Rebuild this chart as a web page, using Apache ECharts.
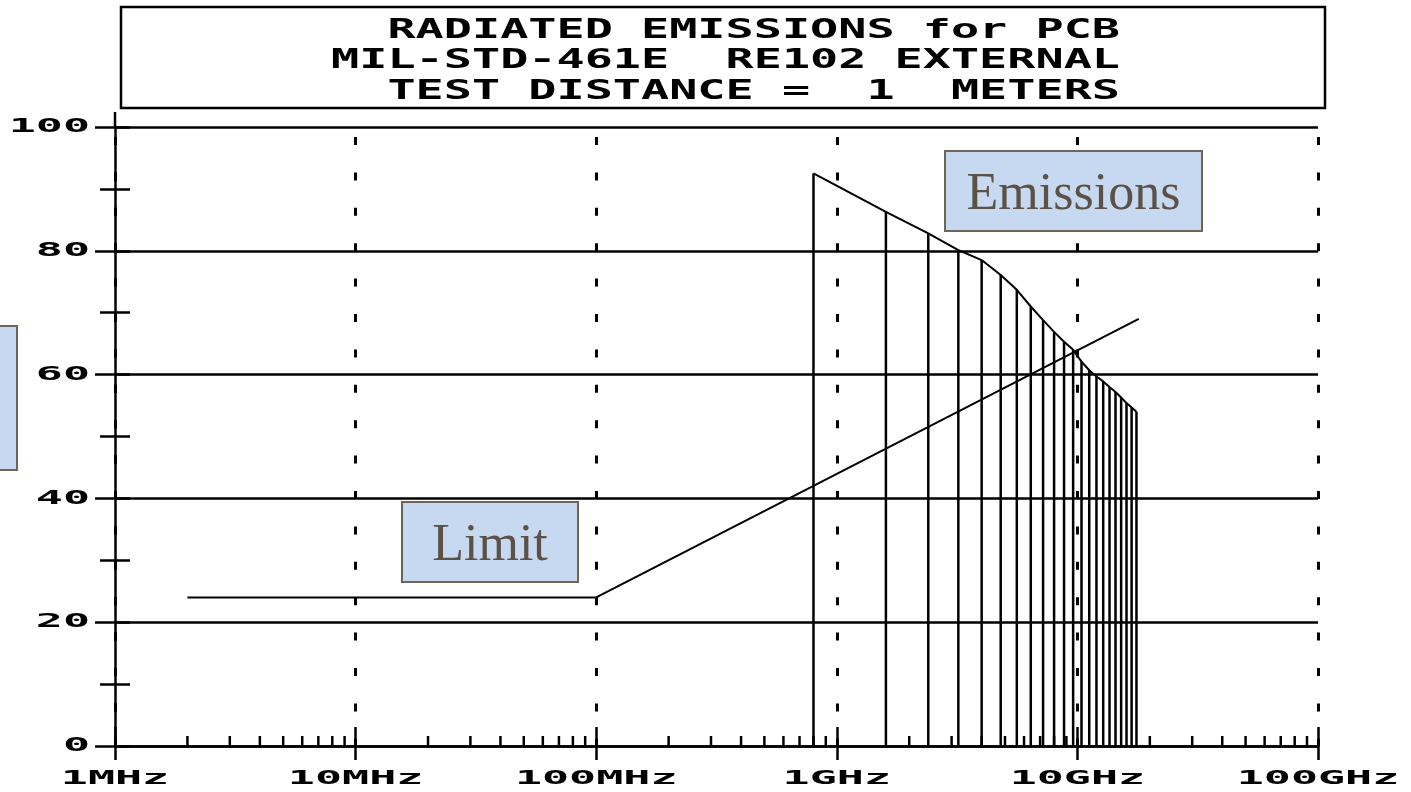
<!DOCTYPE html>
<html><head><meta charset="utf-8">
<script src="https://cdn.jsdelivr.net/npm/echarts@6/dist/echarts.min.js"></script>
<style>html,body{margin:0;padding:0;background:#fff}#c{width:1411px;height:792px}</style>
</head><body><div id="c"></div>
<script>
// ---- data ----
const titleLines = ['RADIATED EMISSIONS for PCB', 'MIL-STD-461E  RE102 EXTERNAL', 'TEST DISTANCE =  1  METERS'];
const xTickValues = [1e6, 1e7, 1e8, 1e9, 1e10, 1e11];
const xTickLabels = ['1MHz', '10MHz', '100MHz', '1GHz', '10GHz', '100GHz'];
const xMinorMultipliers = [2, 3, 4, 5, 6, 7, 8, 9];
const yTickValues = [0, 20, 40, 60, 80, 100];
const limitFreqHz = [2e6, 1e8, 1.8e10];
const limitLevel = [24, 24, 69];
const emissionFreqGHz = [0.8, 1.6, 2.4, 3.2, 4.0, 4.8, 5.6, 6.4, 7.2, 8.0, 8.8, 9.6, 10.4, 11.2, 12.0, 12.8, 13.6, 14.4, 15.2, 16.0, 16.8, 17.6];
const emissionLevel = [92.5, 86.3, 82.8, 80.1, 78.5, 76.1, 73.7, 71.0, 68.8, 66.9, 65.3, 64.0, 62.1, 60.7, 59.7, 58.9, 58.0, 57.2, 56.3, 55.4, 54.7, 54.0];
const emissionLabel = 'Emissions';
const limitLabel = 'Limit';

// ---- build ----
const emissionData = emissionFreqGHz.map((f, i) => [f * 1e9, emissionLevel[i]]);
const limitData = limitFreqHz.map((f, i) => [f, limitLevel[i]]);
const minorTicks = [];
xTickValues.slice(0, -1).forEach(d => xMinorMultipliers.forEach(m => minorTicks.push([d * m, 0])));

const BLACK = '#000';
const labelFont = 'bold 20px "DejaVu Sans Mono"';
const labelScale = 2.25;
const boxFill = '#c6d9f1', boxStroke = '#6e6558', boxText = '#5b5147';

const chart = echarts.init(document.getElementById('c'));
chart.setOption({
  animation: false,
  backgroundColor: '#fff',
  grid: { left: 115, right: 93, top: 127, bottom: 46, containLabel: false },
  xAxis: [{
    type: 'log', logBase: 10, min: 1e6, max: 1e11, splitNumber: 5, position: 'bottom',
    axisLine: { show: true, onZero: false, lineStyle: { color: BLACK, width: 2.5 } },
    axisTick: { show: true, inside: false, length: 14, lineStyle: { color: BLACK, width: 2.5 } },
    axisLabel: { show: false },
    splitLine: { show: true, lineStyle: { color: BLACK, width: 3, type: [8, 27.4], dashOffset: 25.4 } }
  }, {
    type: 'log', logBase: 10, min: 1e6, max: 1e11, splitNumber: 5, position: 'bottom',
    axisLine: { show: false, onZero: false },
    axisTick: { show: true, inside: true, length: 19, lineStyle: { color: BLACK, width: 2.5 } },
    axisLabel: { show: false },
    splitLine: { show: false }
  }],
  yAxis: [{
    type: 'value', min: 0, max: 100, interval: 20, position: 'left',
    axisLine: { show: true, onZero: false, lineStyle: { color: BLACK, width: 2.5 } },
    axisTick: { show: true, inside: false, length: 20, lineStyle: { color: BLACK, width: 2.5 } },
    minorTick: { show: true, splitNumber: 2, length: 15, lineStyle: { color: BLACK, width: 2.5 } },
    axisLabel: { show: false },
    splitLine: { show: true, lineStyle: { color: BLACK, width: 2.5 } }
  }, {
    type: 'value', min: 0, max: 100, interval: 20, position: 'left',
    axisLine: { show: false, onZero: false },
    axisTick: { show: true, inside: true, length: 15, lineStyle: { color: BLACK, width: 2.5 } },
    minorTick: { show: true, splitNumber: 2, length: 15, lineStyle: { color: BLACK, width: 2.5 } },
    axisLabel: { show: false },
    splitLine: { show: false }
  }],
  series: [
    { // x minor ticks (2..9 per decade)
      type: 'custom', name: 'xMinor', silent: true, clip: false, data: minorTicks,
      renderItem: (params, api) => {
        const p = api.coord([api.value(0), 0]);
        return { type: 'line', shape: { x1: p[0], y1: p[1], x2: p[0], y2: p[1] - 10 }, style: { stroke: BLACK, lineWidth: 2.5 } };
      }
    },
    { // y axis line extension above 100
      type: 'custom', name: 'yExt', silent: true, clip: false, data: [[1e6, 100]],
      renderItem: (params, api) => {
        const p = api.coord([api.value(0), api.value(1)]);
        return { type: 'line', shape: { x1: p[0], y1: p[1], x2: p[0], y2: p[1] - 15 }, style: { stroke: BLACK, lineWidth: 2.5 } };
      }
    },
    { // x tick labels
      type: 'custom', name: 'xLabels', silent: true, clip: false,
      data: xTickValues.map((v, i) => [v, 0, i]),
      renderItem: (params, api) => {
        const p = api.coord([api.value(0), 0]);
        return { type: 'text', x: p[0], y: p[1] + 33, scaleX: labelScale,
          style: { text: xTickLabels[api.value(2)], align: 'center', verticalAlign: 'middle', font: labelFont, fill: BLACK } };
      }
    },
    { // y tick labels
      type: 'custom', name: 'yLabels', silent: true, clip: false,
      data: yTickValues.map(v => [1e6, v]),
      renderItem: (params, api) => {
        const p = api.coord([api.value(0), api.value(1)]);
        return { type: 'text', x: p[0] - 25, y: p[1], scaleX: labelScale,
          style: { text: String(api.value(1)), align: 'right', verticalAlign: 'middle', font: labelFont, fill: BLACK } };
      }
    },
    { // emission spectral lines
      type: 'custom', name: 'EmissionLines', silent: true, clip: false, data: emissionData, z: 3,
      renderItem: (params, api) => {
        const top = api.coord([api.value(0), api.value(1)]);
        const base = api.coord([api.value(0), 0]);
        return { type: 'line', shape: { x1: top[0], y1: top[1], x2: base[0], y2: base[1] }, style: { stroke: BLACK, lineWidth: 2.5 } };
      }
    },
    { type: 'line', name: 'Emissions', data: emissionData, symbol: 'none', z: 4,
      lineStyle: { color: BLACK, width: 2 } },
    { type: 'line', name: 'Limit', data: limitData, symbol: 'none', z: 4,
      lineStyle: { color: BLACK, width: 2 } }
  ],
  graphic: [
    { type: 'rect', z: 100, shape: { x: 121, y: 7, width: 1204, height: 101 }, style: { fill: '#fff', stroke: BLACK, lineWidth: 2.5 } },
    ...titleLines.map((t, i) => ({
      type: 'text', z: 101, x: 1120, y: 31 + i * 30.5, scaleX: 1.8,
      style: { text: t, align: 'right', verticalAlign: 'middle', font: 'bold 26px "DejaVu Sans Mono"', fill: BLACK }
    })),
    { type: 'rect', z: 100, shape: { x: 945, y: 151, width: 257, height: 80 }, style: { fill: boxFill, stroke: boxStroke, lineWidth: 2 } },
    { type: 'text', z: 101, x: 1073.5, y: 195, style: { text: emissionLabel, align: 'center', verticalAlign: 'middle', font: '52px "Liberation Serif"', fill: boxText } },
    { type: 'rect', z: 100, shape: { x: 402, y: 502, width: 176, height: 80 }, style: { fill: boxFill, stroke: boxStroke, lineWidth: 2 } },
    { type: 'text', z: 101, x: 490, y: 546, style: { text: limitLabel, align: 'center', verticalAlign: 'middle', font: '52px "Liberation Serif"', fill: boxText } },
    { type: 'rect', z: 100, shape: { x: -10, y: 326, width: 27, height: 144 }, style: { fill: boxFill, stroke: boxStroke, lineWidth: 2 } }
  ]
});
</script>
</body></html>
